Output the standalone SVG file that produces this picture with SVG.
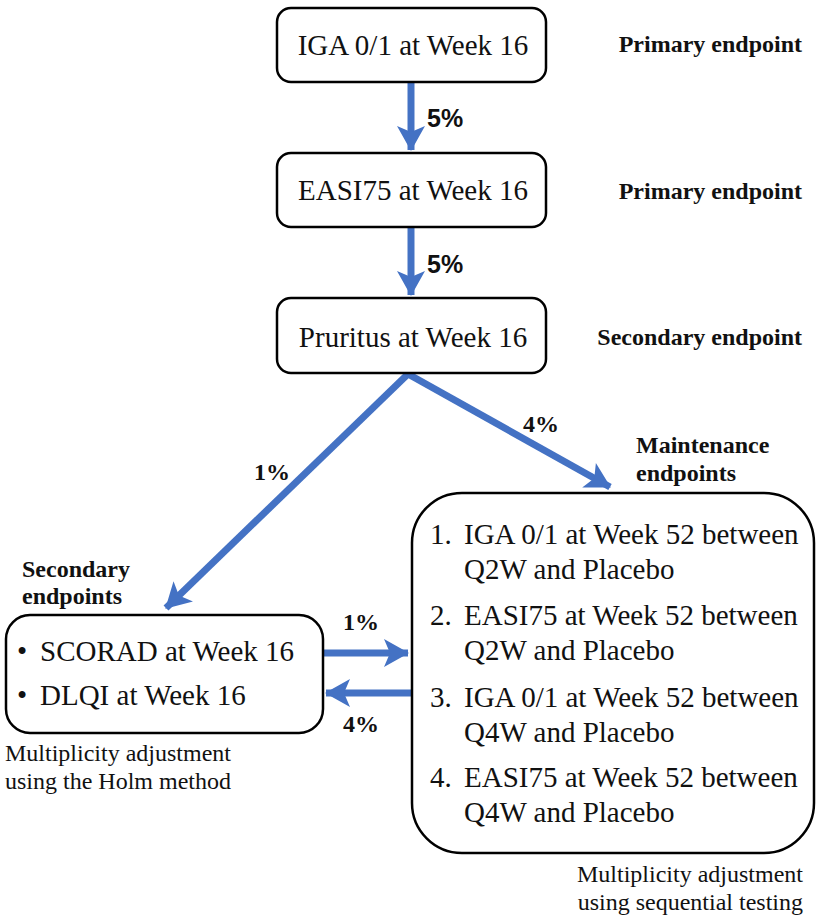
<svg xmlns="http://www.w3.org/2000/svg" width="817" height="919" viewBox="0 0 817 919">
<style>
.box{fill:#fff;stroke:#000;stroke-width:2.5}
.t{font-family:"Liberation Serif",serif;font-size:29px;fill:#111}
.s{font-family:"Liberation Serif",serif;font-size:24px;fill:#111}
.b{font-family:"Liberation Serif",serif;font-size:24px;font-weight:bold;fill:#111}
.p{font-family:"Liberation Sans",sans-serif;font-size:25px;font-weight:bold;fill:#111}
.c{stroke:#4472C4;stroke-width:7;fill:none}
</style>
<defs>
<marker id="ah" markerUnits="userSpaceOnUse" markerWidth="30" markerHeight="30" viewBox="0 -15 26 30" refX="24" refY="0" orient="auto">
<path d="M0,-14 L25,0 L0,14 L6,0 Z" fill="#4472C4"/>
</marker>
</defs>
<rect width="817" height="919" fill="#fff"/>
<g id="connectors">
<line class="c" x1="411" y1="83" x2="411" y2="150" marker-end="url(#ah)"/>
<line class="c" x1="411" y1="228" x2="411" y2="295" marker-end="url(#ah)"/>
<line class="c" x1="408" y1="374" x2="166" y2="608" marker-end="url(#ah)"/>
<line class="c" x1="408" y1="374" x2="610" y2="487" marker-end="url(#ah)"/>
<line class="c" x1="323" y1="653" x2="408" y2="653" marker-end="url(#ah)"/>
<line class="c" x1="411" y1="693" x2="326" y2="693" marker-end="url(#ah)"/>
<text class="p" x="427" y="127">5%</text>
<text class="p" x="427" y="273">5%</text>
<text class="b" x="254" y="480">1%</text>
<text class="b" x="523" y="432">4%</text>
<text class="b" x="343" y="630">1%</text>
<text class="b" x="343" y="732">4%</text>
</g>
<g id="n1">
<rect class="box" x="277" y="8" width="269" height="74" rx="14"/>
<text class="t" x="413" y="55" text-anchor="middle">IGA 0/1 at Week 16</text>
<text class="b" x="802" y="52" text-anchor="end">Primary endpoint</text>
</g>
<g id="n2">
<rect class="box" x="277" y="153" width="269" height="74" rx="14"/>
<text class="t" x="413" y="200" text-anchor="middle">EASI75 at Week 16</text>
<text class="b" x="802" y="199" text-anchor="end">Primary endpoint</text>
</g>
<g id="n3">
<rect class="box" x="277" y="298" width="269" height="75" rx="14"/>
<text class="t" x="413" y="347" text-anchor="middle">Pruritus at Week 16</text>
<text class="b" x="802" y="345" text-anchor="end">Secondary endpoint</text>
</g>
<g id="n4">
<text class="b" x="22" y="577">Secondary</text>
<text class="b" x="22" y="604">endpoints</text>
<rect class="box" x="6" y="615" width="317" height="118" rx="24"/>
<text class="t" x="17" y="661">•</text>
<text class="t" x="40" y="661">SCORAD at Week 16</text>
<text class="t" x="17" y="705">•</text>
<text class="t" x="40" y="705">DLQI at Week 16</text>
<text class="s" x="5" y="761">Multiplicity adjustment</text>
<text class="s" x="5" y="789">using the Holm method</text>
</g>
<g id="n5">
<text class="b" x="636" y="453">Maintenance</text>
<text class="b" x="636" y="481">endpoints</text>
<rect class="box" x="412" y="493" width="402" height="360" rx="50"/>
<text class="t" x="430" y="544">1.</text>
<text class="t" x="464" y="544">IGA 0/1 at Week 52 between</text>
<text class="t" x="464" y="579">Q2W and Placebo</text>
<text class="t" x="430" y="625">2.</text>
<text class="t" x="464" y="625">EASI75 at Week 52 between</text>
<text class="t" x="464" y="660">Q2W and Placebo</text>
<text class="t" x="430" y="707">3.</text>
<text class="t" x="464" y="707">IGA 0/1 at Week 52 between</text>
<text class="t" x="464" y="742">Q4W and Placebo</text>
<text class="t" x="430" y="787">4.</text>
<text class="t" x="464" y="787">EASI75 at Week 52 between</text>
<text class="t" x="464" y="822">Q4W and Placebo</text>
<text class="s" x="803" y="882" text-anchor="end">Multiplicity adjustment</text>
<text class="s" x="803" y="910" text-anchor="end">using sequential testing</text>
</g>
</svg>
